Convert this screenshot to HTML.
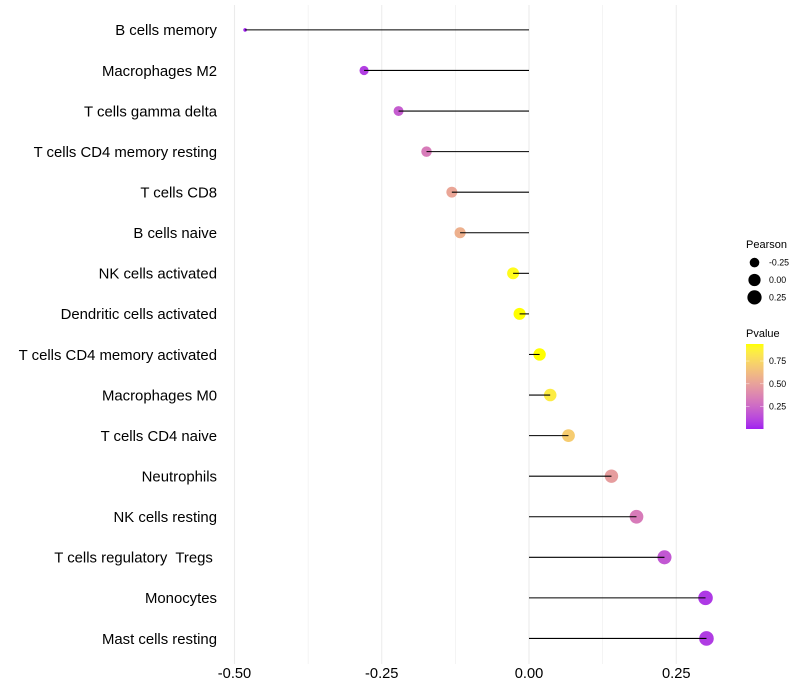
<!DOCTYPE html>
<html lang="en">
<head>
<meta charset="utf-8">
<title>Immune cell correlation lollipop chart</title>
<style>
html,body{margin:0;padding:0;background:#fff;}
svg{display:block;font-family:"Liberation Sans",Arial,sans-serif;}
text{white-space:pre;}
</style>
</head>
<body>
<svg id="chart" width="800" height="700" viewBox="0 0 800 700" xmlns="http://www.w3.org/2000/svg" xml:space="preserve">
<defs><linearGradient id="pvalue-gradient" x1="0" y1="1" x2="0" y2="0"></linearGradient></defs>
<g id="grid"></g>
<g id="marks"></g>
<g id="ylabels"></g>
<g id="xlabels"></g>
<g id="size-legend"></g>
<g id="color-legend"></g>
</svg>
<script>
const categories = ["B cells memory","Macrophages M2","T cells gamma delta","T cells CD4 memory resting","T cells CD8","B cells naive","NK cells activated","Dendritic cells activated","T cells CD4 memory activated","Macrophages M0","T cells CD4 naive","Neutrophils","NK cells resting","T cells regulatory  Tregs ","Monocytes","Mast cells resting"];
const pearson = [-0.482,-0.28,-0.2215,-0.174,-0.131,-0.117,-0.027,-0.016,0.018,0.036,0.067,0.14,0.1825,0.23,0.2997,0.3013];
const pvalue = [0.003,0.09,0.2,0.33,0.52,0.57,0.92,0.94,0.94,0.85,0.7,0.48,0.33,0.18,0.07,0.08];
const xMajorTicks = [-0.5,-0.25,0,0.25];
const xMinorTicks = [-0.375,-0.125,0.125];
const xTickLabels = ["-0.50","-0.25","0.00","0.25"];
const sizeLegendValues = [-0.25,0,0.25];
const sizeLegendLabels = ["-0.25","0.00","0.25"];
const colorLegendValues = [0.25,0.5,0.75];
const colorLegendLabels = ["0.25","0.50","0.75"];

const NS = "http://www.w3.org/2000/svg";
const PANEL_TOP = 5, PANEL_BOTTOM = 664;
function xScale(v){ return 529 + 589 * v; }
function yScale(i){ return 29.9 + 40.57 * i; }
const pMin = 0.003, pMax = 0.937;
function barY(p){ return 429 - (p - pMin) / (pMax - pMin) * 85; }
function radius(v){
  const lo = Math.min.apply(null, pearson), hi = Math.max.apply(null, pearson);
  return 1.8 + 5.5 * Math.sqrt(Math.max(0, v - lo) / (hi - lo));
}
function make(tag, attrs, parent){
  const el = document.createElementNS(NS, tag);
  for (const k in attrs) el.setAttribute(k, attrs[k]);
  parent.appendChild(el);
  return el;
}
/* Lab interpolation between the two gradient end colours */
function rgb2lab(c){
  const f = c.map(v => { v /= 255; return v > 0.04045 ? Math.pow((v + 0.055) / 1.055, 2.4) : v / 12.92; });
  const X = (0.4124*f[0] + 0.3576*f[1] + 0.1805*f[2]) / 0.95047;
  const Y = (0.2126*f[0] + 0.7152*f[1] + 0.0722*f[2]);
  const Z = (0.0193*f[0] + 0.1192*f[1] + 0.9505*f[2]) / 1.08883;
  const g = t => t > 0.008856 ? Math.cbrt(t) : 7.787 * t + 16 / 116;
  return [116*g(Y) - 16, 500*(g(X) - g(Y)), 200*(g(Y) - g(Z))];
}
function lab2hex(l){
  const fy = (l[0] + 16) / 116, fx = l[1] / 500 + fy, fz = fy - l[2] / 200;
  const g = t => t*t*t > 0.008856 ? t*t*t : (t - 16/116) / 7.787;
  const X = g(fx)*0.95047, Y = g(fy), Z = g(fz)*1.08883;
  const lin = [3.2406*X - 1.5372*Y - 0.4986*Z, -0.9689*X + 1.8758*Y + 0.0415*Z, 0.0557*X - 0.204*Y + 1.057*Z];
  return "#" + lin.map(v => {
    v = v > 0.0031308 ? 1.055*Math.pow(v, 1/2.4) - 0.055 : 12.92*v;
    const n = Math.max(0, Math.min(255, Math.round(v*255)));
    return n.toString(16).padStart(2, "0");
  }).join("");
}
const labLow = rgb2lab([160,32,240]), labHigh = rgb2lab([255,255,0]);
function colorOf(p){
  const t = Math.max(0, Math.min(1, (p - pMin) / (pMax - pMin)));
  return lab2hex(labLow.map((v, i) => v + (labHigh[i] - v) * t));
}

/* grid */
const grid = document.getElementById("grid");
xMinorTicks.forEach(v => {
  const l = make("line", {x1:xScale(v), x2:xScale(v), y1:PANEL_TOP, y2:PANEL_BOTTOM, stroke:"#ebebeb", "stroke-width":0.53}, grid);
  
  
});
xMajorTicks.forEach(v => {
  const l = make("line", {x1:xScale(v), x2:xScale(v), y1:PANEL_TOP, y2:PANEL_BOTTOM, stroke:"#ebebeb", "stroke-width":1.07}, grid);
  
  
});

/* lollipops */
const marks = document.getElementById("marks");
categories.forEach((c, i) => {
  const pt = make("circle", {cx:xScale(pearson[i]), cy:yScale(i), r:radius(pearson[i]), fill:colorOf(pvalue[i])}, marks);
  
  
});
categories.forEach((c, i) => {
  const seg = make("line", {x1:xScale(0), x2:xScale(pearson[i]), y1:yScale(i), y2:yScale(i), stroke:"#000", "stroke-width":1.07}, marks);
  
  
});

/* y labels */
const ylabels = document.getElementById("ylabels");
categories.forEach((c, i) => {
  const t = make("text", {x:217, y:yScale(i) + 5.3, "text-anchor":"end", "font-size":14.9, fill:"#000"}, ylabels);
  t.textContent = c;
  
  
});

/* x labels */
const xlabels = document.getElementById("xlabels");
xMajorTicks.forEach((v, i) => {
  const t = make("text", {x:xScale(v), y:678, "text-anchor":"middle", "font-size":14.67, fill:"#000"}, xlabels);
  t.textContent = xTickLabels[i];
  
  
});

/* size legend */
const sizeLegend = document.getElementById("size-legend");
const sizeTitle = make("text", {x:746, y:248, "font-size":11, fill:"#000"}, sizeLegend);
sizeTitle.textContent = "Pearson";


sizeLegendValues.forEach((v, i) => {
  const cy = 262.6 + i * 17.4;
  const dot = make("circle", {cx:754.5, cy:cy, r:radius(v), fill:"#000"}, sizeLegend);
  
  
  const lab = make("text", {x:769, y:cy + 3, "font-size":8.8, fill:"#000"}, sizeLegend);
  lab.textContent = sizeLegendLabels[i];
  
  
});

/* colour legend */
const colorLegend = document.getElementById("color-legend");
const grad = document.getElementById("pvalue-gradient");
for (let s = 0; s <= 20; s++) {
  make("stop", {offset:(s * 5) + "%", "stop-color":colorOf(pMin + (pMax - pMin) * s / 20)}, grad);
}
const colorTitle = make("text", {x:746, y:337, "font-size":11, fill:"#000"}, colorLegend);
colorTitle.textContent = "Pvalue";


const bar = make("rect", {x:746, y:344, width:17.5, height:85, fill:"url(#pvalue-gradient)"}, colorLegend);


colorLegendValues.forEach((p, i) => {
  const y = barY(p);
  const left = make("line", {x1:746, x2:749.5, y1:y, y2:y, stroke:"#fff", "stroke-opacity":0.7, "stroke-width":0.6}, colorLegend);
  
  
  const right = make("line", {x1:760, x2:763.5, y1:y, y2:y, stroke:"#fff", "stroke-opacity":0.7, "stroke-width":0.6}, colorLegend);
  
  
  const lab = make("text", {x:769, y:y + 3, "font-size":8.8, fill:"#000"}, colorLegend);
  lab.textContent = colorLegendLabels[i];
  
  
});
</script>
</body>
</html>
